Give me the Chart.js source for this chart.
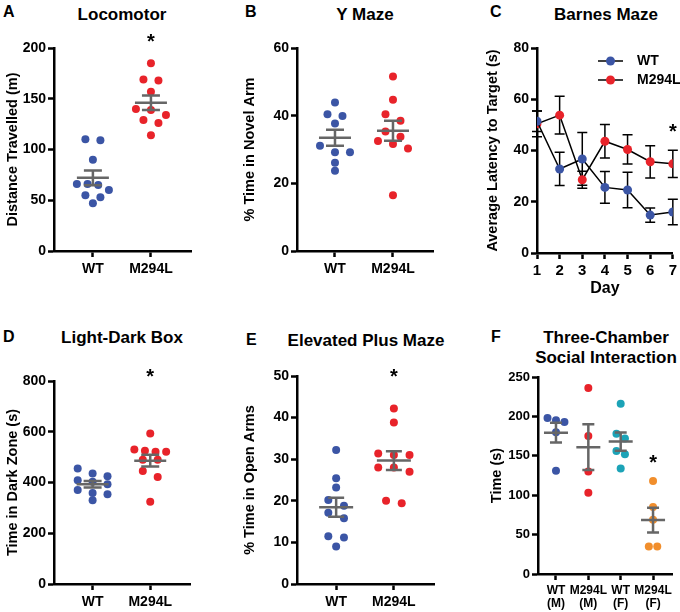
<!DOCTYPE html>
<html>
<head>
<meta charset="utf-8">
<script src="https://cdn.jsdelivr.net/npm/chart.js@4/dist/chart.umd.min.js"></script>
<style>
  body { margin: 0; width: 680px; height: 612px; overflow: hidden; background: #fff; position: relative;
         font-family: "Liberation Sans", Arial, sans-serif; font-weight: bold; color: #000; }
  canvas { position: absolute; }
  .t { position: absolute; font-size: 17px; transform: translate(-50%, -50%); white-space: nowrap; }
  .l { position: absolute; font-size: 16px; transform: translateY(-50%); }
</style>
</head>
<body>
<div class="l" style="left:3px;top:12px">A</div>
<div class="t" style="left:122px;top:15px">Locomotor</div>
<div class="l" style="left:245px;top:12px">B</div>
<div class="t" style="left:365px;top:15px">Y Maze</div>
<div class="l" style="left:490px;top:12px">C</div>
<div class="t" style="left:606px;top:15px">Barnes Maze</div>
<div class="l" style="left:3px;top:337px">D</div>
<div class="t" style="left:122px;top:338px">Light-Dark Box</div>
<div class="l" style="left:246px;top:340px">E</div>
<div class="t" style="left:366px;top:341px">Elevated Plus Maze</div>
<div class="l" style="left:491px;top:337px">F</div>
<div class="t" style="left:606px;top:338px">Three-Chamber</div>
<div class="t" style="left:606px;top:358px">Social Interaction</div>

<canvas id="locomotor" width="200" height="260" style="left:0;top:30px"></canvas>
<canvas id="ymaze" width="203" height="260" style="left:237px;top:30px"></canvas>
<canvas id="barnes" width="200" height="268" style="left:480px;top:30px"></canvas>
<canvas id="lightdark" width="200" height="257" style="left:0;top:355px"></canvas>
<canvas id="plusmaze" width="203" height="257" style="left:237px;top:355px"></canvas>
<canvas id="social" width="196" height="257" style="left:484px;top:355px"></canvas>

<script>
// ---- data ----
const groups = ["WT", "M294L"];
const socialGroups = [["WT", "(M)"], ["M294L", "(M)"], ["WT", "(F)"], ["M294L", "(F)"]];
const days = [1, 2, 3, 4, 5, 6, 7];

const locoWT = [110, 109, 90, 66, 66, 65, 60, 55, 53, 47];
const locoM294L = [185, 169, 168, 157, 140, 139, 134, 129, 126, 114];

const ymazeWT = [43.9, 40.4, 39.9, 37.7, 31.1, 29.2, 29.2, 26.1, 23.7];
const ymazeM294L = [51.6, 44.7, 40.4, 38.5, 35.3, 33.8, 32.5, 31.6, 30.3, 16.5];

const barnesWT = [51.4, 32.8, 36.7, 25.6, 24.6, 14.8, 16.0];
const barnesWTsem = [4, 6.5, 10.3, 6.2, 6.9, 2.8, 5];
const barnesM294L = [50.4, 53.8, 28.6, 43.6, 40.4, 35.6, 34.8];
const barnesM294Lsem = [5, 7.4, 3.3, 6.5, 5.7, 6.3, 5.3];

const ldbWT = [455, 435, 425, 409, 403, 393, 370, 359, 354, 330];
const ldbM294L = [593, 530, 525, 521, 521, 490, 490, 445, 422, 324];

const epmWT = [32.2, 25.4, 23.2, 20.2, 18.8, 17.1, 15.8, 11.5, 11.2, 9.0];
const epmM294L = [42.2, 38.8, 31.4, 31, 31, 28, 28, 27, 20.0, 19.4];

const socialWTM = [198, 195, 193, 180, 131];
const socialM294LM = [236, 175, 130, 103];
const socialWTF = [216, 178, 172, 156, 152, 134];
const socialM294LF = [118, 85, 69, 35, 35];

// ---- styling ----
const BLUE = "#3b55a5", RED = "#e8232a", TEAL = "#1ca3b7", ORANGE = "#f18e2c", GREY = "#666666";
const FONT = '"Liberation Sans", Arial, sans-serif';
Chart.defaults.font.family = FONT;
Chart.defaults.font.weight = "bold";
Chart.defaults.color = "#000";

// spread points that sit at about the same height side by side (rows, like Prism)
function swarm(values, cat, pxY, catPx, gap, maxW) {
  const sorted = values.slice().sort((a, b) => b - a);
  const pts = [];
  let row = [];
  const flush = () => {
    const g = row.length > 1 ? Math.min(gap, maxW / (row.length - 1)) : 0;
    row.forEach((v, i) => pts.push({ x: cat + (i - (row.length - 1) / 2) * g / catPx, y: v }));
    row = [];
  };
  sorted.forEach(v => {
    if (row.length && (row[0] - v) * pxY > 8) flush();
    row.push(v);
  });
  flush();
  return pts;
}

function meanSem(halfW, capW) {
  return {
    id: "meanSem",
    afterDatasetsDraw(chart) {
      const { ctx, scales: { x, y } } = chart;
      ctx.save();
      ctx.strokeStyle = GREY;
      ctx.lineWidth = 2.5;
      chart.data.datasets.forEach(ds => {
        const v = ds.data.map(p => p.y), n = v.length;
        const m = v.reduce((a, b) => a + b, 0) / n;
        const sd = Math.sqrt(v.reduce((a, b) => a + (b - m) ** 2, 0) / (n - 1));
        const se = sd / Math.sqrt(n);
        const cx = x.getPixelForValue(ds.cat);
        const ym = y.getPixelForValue(m), yt = y.getPixelForValue(m + se), yb = y.getPixelForValue(m - se);
        ctx.beginPath();
        ctx.moveTo(cx - halfW, ym); ctx.lineTo(cx + halfW, ym);
        ctx.moveTo(cx, yt); ctx.lineTo(cx, yb);
        ctx.moveTo(cx - capW, yt); ctx.lineTo(cx + capW, yt);
        ctx.moveTo(cx - capW, yb); ctx.lineTo(cx + capW, yb);
        ctx.stroke();
      });
      ctx.restore();
    }
  };
}

function stars(marks) {
  return {
    id: "stars",
    afterDraw(chart) {
      const { ctx, scales: { x, y } } = chart;
      ctx.save();
      ctx.font = "bold 20px " + FONT;
      ctx.fillStyle = "#000";
      ctx.textAlign = "center";
      ctx.textBaseline = "alphabetic";
      marks.forEach(m => ctx.fillText("*", x.getPixelForValue(m[0]), y.getPixelForValue(m[1]) + 11));
      ctx.restore();
    }
  };
}

const axisGrid = { drawOnChartArea: false, tickLength: 6, tickWidth: 2.5, tickColor: "#000" };
const axisBorder = { color: "#000", width: 2.5 };

function yScale(title, max, step, width, tickSize) {
  return {
    min: 0, max: max,
    ticks: { stepSize: step, font: { size: tickSize, weight: "bold" }, color: "#000", padding: 2 },
    grid: axisGrid, border: axisBorder,
    title: { display: true, text: title, font: { size: 14.5, weight: "bold" }, color: "#000", padding: { top: 4, bottom: 0 } },
    afterFit: s => { s.width = width; }
  };
}

function xCatScale(labels, range, height, fontSize) {
  return {
    type: "linear", min: range[0], max: range[1],
    afterBuildTicks: s => { s.ticks = labels.map((_, i) => ({ value: i + 1 })); },
    ticks: { callback: v => labels[v - 1], font: { size: fontSize, weight: "bold", lineHeight: 1.1 },
             color: "#000", padding: 4, maxRotation: 0, autoSkip: false },
    grid: axisGrid, border: axisBorder,
    afterFit: s => { s.height = height; }
  };
}

function dotPlot(id, cfg) {
  new Chart(document.getElementById(id), {
    type: "scatter",
    data: {
      datasets: cfg.series.map((s, i) => ({
        data: swarm(s[0], i + 1, cfg.pxY, cfg.catPx, cfg.gap, cfg.maxW),
        cat: i + 1,
        backgroundColor: s[1],
        pointRadius: 4, pointHoverRadius: 4, borderWidth: 0
      }))
    },
    options: {
      responsive: false, animation: false,
      layout: { padding: { top: cfg.pad[0], right: cfg.pad[1], bottom: 0, left: 0 } },
      plugins: { legend: { display: false }, tooltip: { enabled: false } },
      scales: {
        x: xCatScale(cfg.labels, cfg.xr, cfg.xh, cfg.xfont),
        y: yScale(cfg.title, cfg.max, cfg.step, cfg.yw, cfg.tick)
      }
    },
    plugins: [meanSem(cfg.halfW, cfg.capW), stars(cfg.stars)]
  });
}

dotPlot("locomotor", {
  series: [[locoWT, BLUE], [locoM294L, RED]], labels: groups,
  title: "Distance Travelled (m)", max: 200, step: 50, yw: 54, tick: 14,
  xr: [0.33, 2.69], xh: 39, xfont: 14, pad: [18, 9],
  pxY: 203 / 200, catPx: 58, gap: 15, maxW: 32, halfW: 16, capW: 9, stars: [[2, 211]]
});

dotPlot("ymaze", {
  series: [[ymazeWT, BLUE], [ymazeM294L, RED]], labels: groups,
  title: "% Time in Novel Arm", max: 60, step: 20, yw: 60, tick: 14,
  xr: [0.345, 2.69], xh: 39, xfont: 14, pad: [18, 7],
  pxY: 203 / 60, catPx: 58, gap: 15, maxW: 32, halfW: 16, capW: 9, stars: []
});

dotPlot("lightdark", {
  series: [[ldbWT, BLUE], [ldbM294L, RED]], labels: groups,
  title: "Time in Dark Zone (s)", max: 800, step: 200, yw: 54, tick: 14,
  xr: [0.33, 2.69], xh: 28, xfont: 14, pad: [26, 10],
  pxY: 203 / 800, catPx: 58, gap: 15, maxW: 32, halfW: 16, capW: 9, stars: [[2, 835]]
});

dotPlot("plusmaze", {
  series: [[epmWT, BLUE], [epmM294L, RED]], labels: groups,
  title: "% Time in Open Arms", max: 50, step: 10, yw: 60, tick: 14,
  xr: [0.322, 2.695], xh: 28, xfont: 14, pad: [21, 6],
  pxY: 208 / 50, catPx: 59, gap: 16, maxW: 34, halfW: 17, capW: 8, stars: [[2, 51]]
});

dotPlot("social", {
  series: [[socialWTM, BLUE], [socialM294LM, RED], [socialWTF, TEAL], [socialM294LF, ORANGE]], labels: socialGroups,
  title: "Time (s)", max: 250, step: 50, yw: 54, tick: 13,
  xr: [0.444, 4.586], xh: 38, xfont: 12, pad: [22, 8],
  pxY: 197 / 250, catPx: 32.5, gap: 8.5, maxW: 17, halfW: 12, capW: 6, stars: [[4, 147]]
});

// ---- Barnes maze line chart ----
const barnesErrors = {
  id: "barnesErrors",
  beforeDatasetsDraw(chart) {
    const { ctx, scales: { x, y } } = chart;
    ctx.save();
    ctx.strokeStyle = "#000";
    ctx.lineWidth = 1.5;
    chart.data.datasets.forEach(ds => {
      ds.data.forEach((p, i) => {
        const cx = x.getPixelForValue(p.x);
        const yt = y.getPixelForValue(p.y + ds.sem[i]), yb = y.getPixelForValue(p.y - ds.sem[i]);
        ctx.beginPath();
        ctx.moveTo(cx, yt); ctx.lineTo(cx, yb);
        ctx.moveTo(cx - 5, yt); ctx.lineTo(cx + 5, yt);
        ctx.moveTo(cx - 5, yb); ctx.lineTo(cx + 5, yb);
        ctx.stroke();
      });
    });
    ctx.restore();
  }
};

const barnesLegend = {
  id: "barnesLegend",
  afterDraw(chart) {
    const { ctx } = chart;
    ctx.save();
    ctx.font = "bold 14px " + FONT;
    ctx.textBaseline = "middle";
    chart.data.datasets.forEach((ds, i) => {
      const ly = 31 + i * 19;
      ctx.strokeStyle = "#000";
      ctx.lineWidth = 1.5;
      ctx.beginPath(); ctx.moveTo(118, ly); ctx.lineTo(143, ly); ctx.stroke();
      ctx.fillStyle = ds.pointBackgroundColor;
      ctx.beginPath(); ctx.arc(130.5, ly, 4.5, 0, Math.PI * 2); ctx.fill();
      ctx.fillStyle = "#000";
      ctx.fillText(ds.label, 157, ly);
    });
    ctx.restore();
  }
};

new Chart(document.getElementById("barnes"), {
  type: "line",
  data: {
    datasets: [
      { label: "WT", data: days.map((d, i) => ({ x: d, y: barnesWT[i] })), sem: barnesWTsem,
        borderColor: "#000", borderWidth: 1.5, pointBackgroundColor: BLUE, pointBorderWidth: 0,
        pointRadius: 4.5, pointHoverRadius: 4.5, tension: 0 },
      { label: "M294L", data: days.map((d, i) => ({ x: d, y: barnesM294L[i] })), sem: barnesM294Lsem,
        borderColor: "#000", borderWidth: 1.5, pointBackgroundColor: RED, pointBorderWidth: 0,
        pointRadius: 4.5, pointHoverRadius: 4.5, tension: 0 }
    ]
  },
  options: {
    responsive: false, animation: false,
    layout: { padding: { top: 18, right: 7, bottom: 0, left: 0 } },
    plugins: { legend: { display: false }, tooltip: { enabled: false } },
    scales: {
      x: {
        type: "linear", min: 1, max: 7,
        ticks: { stepSize: 1, font: { size: 15, weight: "bold" }, color: "#000", padding: 3 },
        grid: axisGrid, border: axisBorder,
        title: { display: true, text: "Day", font: { size: 16, weight: "bold" }, color: "#000", padding: { top: 0, bottom: 0 } },
        afterFit: s => { s.height = 45; }
      },
      y: yScale("Average Latency to Target (s)", 80, 20, 57, 14)
    }
  },
  plugins: [barnesErrors, barnesLegend, stars([[7, 49]])]
});
</script>
</body>
</html>
